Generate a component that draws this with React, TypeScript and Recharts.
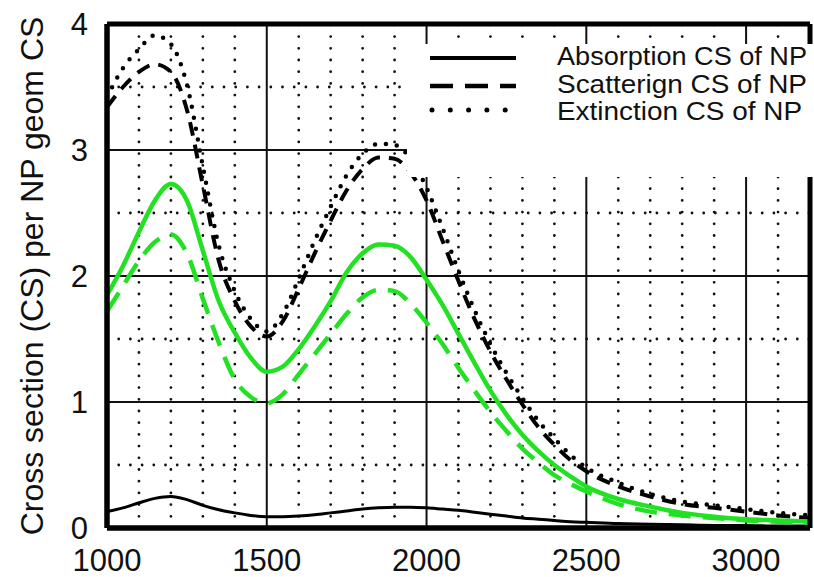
import React from 'react';
import { LineChart, Line, XAxis, YAxis, CartesianGrid, ReferenceLine, Legend } from 'recharts';

const wavelengths = [1000, 1050, 1100, 1150, 1200, 1250, 1300, 1350, 1400, 1450, 1500, 1550, 1600, 1650, 1700, 1750, 1800, 1850, 1900, 1950, 2000, 2050, 2100, 2150, 2200, 2250, 2300, 2350, 2400, 2450, 2500, 2600, 2700, 2800, 2900, 3000, 3100, 3200];
const absorptionNP = [0.13, 0.16, 0.2, 0.235, 0.25, 0.225, 0.18, 0.145, 0.12, 0.1, 0.09, 0.09, 0.095, 0.105, 0.12, 0.135, 0.15, 0.16, 0.165, 0.165, 0.16, 0.15, 0.14, 0.125, 0.11, 0.095, 0.08, 0.07, 0.06, 0.05, 0.045, 0.035, 0.03, 0.025, 0.02, 0.02, 0.015, 0.015];
const scatteringNP = [3.34, 3.5, 3.62, 3.68, 3.62, 3.32, 2.72, 2.12, 1.8, 1.6, 1.52, 1.64, 1.9, 2.18, 2.44, 2.68, 2.85, 2.94, 2.93, 2.82, 2.6, 2.28, 1.96, 1.66, 1.4, 1.18, 0.98, 0.8, 0.66, 0.54, 0.45, 0.33, 0.25, 0.19, 0.16, 0.13, 0.1, 0.08];
const extinctionNP = [3.42, 3.65, 3.8, 3.91, 3.84, 3.52, 2.87, 2.24, 1.88, 1.66, 1.56, 1.7, 1.98, 2.28, 2.55, 2.8, 2.97, 3.05, 3.04, 2.93, 2.7, 2.38, 2.04, 1.73, 1.46, 1.23, 1.03, 0.85, 0.71, 0.58, 0.48, 0.36, 0.27, 0.21, 0.18, 0.15, 0.12, 0.1];
const greenExtinction = [1.85, 2.08, 2.35, 2.6, 2.73, 2.6, 2.2, 1.8, 1.55, 1.35, 1.24, 1.28, 1.42, 1.6, 1.8, 2.03, 2.18, 2.25, 2.24, 2.15, 1.97, 1.77, 1.54, 1.31, 1.09, 0.9, 0.74, 0.61, 0.5, 0.41, 0.33, 0.23, 0.17, 0.12, 0.09, 0.07, 0.06, 0.05];
const greenScattering = [1.72, 1.92, 2.12, 2.27, 2.33, 2.18, 1.82, 1.47, 1.18, 1.04, 0.99, 1.06, 1.22, 1.38, 1.54, 1.7, 1.83, 1.89, 1.88, 1.78, 1.63, 1.46, 1.27, 1.09, 0.92, 0.77, 0.63, 0.52, 0.42, 0.35, 0.29, 0.19, 0.13, 0.1, 0.08, 0.06, 0.05, 0.04];

const xTicks = [1000, 1500, 2000, 2500, 3000];
const yTicks = [0, 1, 2, 3, 4];
const minorX = [1100, 1200, 1300, 1400, 1600, 1700, 1800, 1900, 2100, 2200, 2300, 2400, 2600, 2700, 2800, 2900, 3100];
const minorY = [0.5, 1.5, 2.5, 3.5];
const xDomain: [number, number] = [1000, 3200];
const yDomain: [number, number] = [0, 4];
const legendLabels = ['Absorption CS of NP', 'Scatterign CS of NP', 'Extinction CS of NP'];
const yAxisTitle = 'Cross section (CS) per NP geom CS';

const data = wavelengths.map((w, i) => ({
  w,
  abs: absorptionNP[i],
  sca: scatteringNP[i],
  ext: extinctionNP[i],
  gExt: greenExtinction[i],
  gSca: greenScattering[i],
}));

const FONT = '"Liberation Sans", Arial, Helvetica, sans-serif';
const GREEN = '#22e022';

const XTick = (props: any) => {
  const { x, y, payload } = props;
  return (
    <text x={x} y={y + 43} textAnchor="middle" fontSize={31} fontFamily={FONT} fill="#111">
      {payload.value}
    </text>
  );
};

const YTick = (props: any) => {
  const { x, y, payload } = props;
  return (
    <text x={x - 19} y={y + 11} textAnchor="end" fontSize={31} fontFamily={FONT} fill="#111">
      {payload.value}
    </text>
  );
};

const renderTitle = () => (
  <text
    x={43}
    y={276}
    transform="rotate(-90, 43, 276)"
    textAnchor="middle"
    fontSize={32}
    fontFamily={FONT}
    fill="#111"
  >
    {yAxisTitle}
  </text>
);

const LegendBox = () => (
  <svg width={406} height={133} style={{ display: 'block' }}>
    <line x1={23} x2={109} y1={14} y2={14} stroke="#000" strokeWidth={4} />
    <line x1={23} x2={109} y1={42} y2={42} stroke="#000" strokeWidth={4.5} strokeDasharray="23 12" />
    <line x1={25} x2={109} y1={66} y2={66} stroke="#000" strokeWidth={5} strokeDasharray="0 18.3" strokeLinecap="round" />
    {legendLabels.map((t, i) => (
      <text
        key={t}
        x={150}
        y={[21, 49, 76][i]}
        fontSize={25}
        fontFamily={FONT}
        fill="#111"
        textLength={i === 2 ? 245 : 250}
        lengthAdjust="spacingAndGlyphs"
      >
        {t}
      </text>
    ))}
  </svg>
);

export default function App() {
  return (
    <div style={{ position: 'absolute', left: 0, top: 0, width: 814, height: 577, background: '#fff' }}>
      <LineChart width={814} height={577} data={data} margin={{ top: 24, right: 4, left: 0, bottom: 0 }}>
        <CartesianGrid stroke="#111" strokeWidth={2} />
        {minorX.map((v) => (
          <ReferenceLine key={'mx' + v} x={v} stroke="#111" strokeWidth={2.8} strokeDasharray="0 11.7" strokeLinecap="round" />
        ))}
        {minorY.map((v) => (
          <ReferenceLine key={'my' + v} y={v} stroke="#111" strokeWidth={2.8} strokeDasharray="0 11.7" strokeLinecap="round" />
        ))}
        <XAxis
          dataKey="w"
          type="number"
          domain={xDomain}
          ticks={xTicks}
          height={49}
          tickSize={0}
          tickMargin={0}
          tickLine={false}
          tick={<XTick />}
          axisLine={{ stroke: '#000', strokeWidth: 5 }}
          allowDataOverflow
        />
        <YAxis
          type="number"
          domain={yDomain}
          ticks={yTicks}
          width={107}
          tickSize={0}
          tickMargin={0}
          tickLine={false}
          tick={<YTick />}
          axisLine={{ stroke: '#000', strokeWidth: 5 }}
          label={renderTitle}
          allowDataOverflow
        />
        <Line type="monotone" dataKey="abs" stroke="#000" strokeWidth={3} dot={false} isAnimationActive={false} />
        <Line type="monotone" dataKey="sca" stroke="#000" strokeWidth={4} strokeDasharray="14 9" dot={false} isAnimationActive={false} />
        <Line type="monotone" dataKey="ext" stroke="#000" strokeWidth={4.5} strokeDasharray="0 11" strokeLinecap="round" dot={false} isAnimationActive={false} />
        <Line type="monotone" dataKey="gExt" stroke={GREEN} strokeWidth={4.5} dot={false} isAnimationActive={false} />
        <Line type="monotone" dataKey="gSca" stroke={GREEN} strokeWidth={4.5} strokeDasharray="22 12" dot={false} isAnimationActive={false} />
        {xDomain.map((v) => (
          <ReferenceLine key={'fx' + v} x={v} stroke="#000" strokeWidth={5} ifOverflow="visible" />
        ))}
        {yDomain.map((v) => (
          <ReferenceLine key={'fy' + v} y={v} stroke="#000" strokeWidth={5} ifOverflow="visible" />
        ))}
        <Legend
          layout="vertical"
          align="center"
          verticalAlign="middle"
          content={() => <LegendBox />}
          wrapperStyle={{ position: 'absolute', left: 407, top: 44, width: 406, height: 133, background: '#fff', margin: 0, padding: 0 }}
        />
      </LineChart>
    </div>
  );
}
